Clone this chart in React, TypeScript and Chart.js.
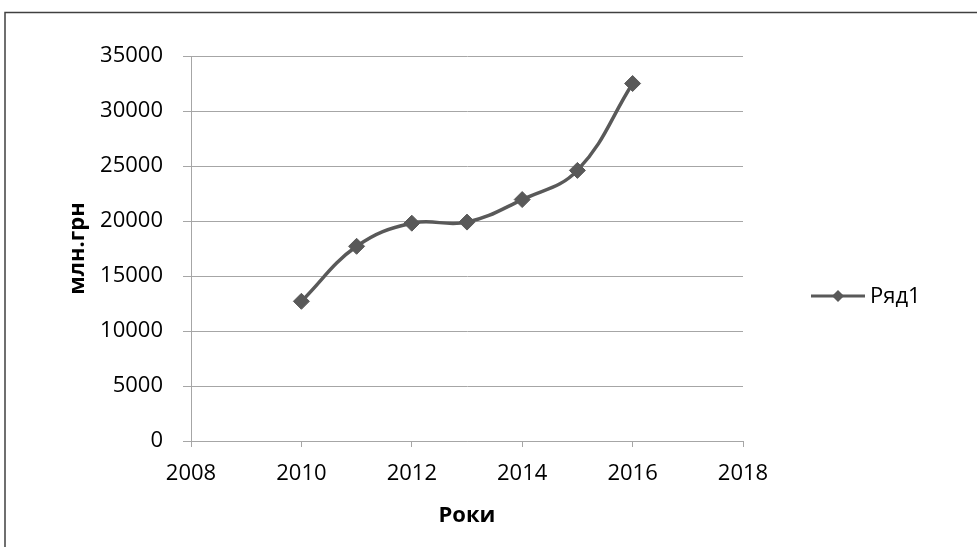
import React, { useEffect, useRef } from "react";
import { Chart, registerables } from "chart.js";

Chart.register(...registerables);

// ---- data ----
const years = [2010, 2011, 2012, 2013, 2014, 2015, 2016];
const values = [12700, 17700, 19800, 19900, 21950, 24600, 32500];
const seriesName = "Ряд1";
const xTitle = "Роки";
const yTitle = "млн.грн";
const xMin = 2008;
const xMax = 2018;
const xStep = 2;
const yMin = 0;
const yMax = 35000;
const yStep = 5000;

// ---- style ----
const LINE = "#595959";
const GRID = "#a6a6a6";
const FONT = "'Open Sans', 'DejaVu Sans', sans-serif";

export default function App() {
  const ref = useRef<HTMLCanvasElement>(null);

  useEffect(() => {
    if (!ref.current) return;

    const framePlugin = {
      id: "frame",
      afterDraw(chart: any) {
        const ctx = chart.ctx;
        ctx.save();
        ctx.strokeStyle = "#404040";
        ctx.lineWidth = 1.5;
        ctx.strokeRect(5, 12.5, 1400, 900);
        ctx.restore();
      },
    };

    const legendPlugin = {
      id: "customLegend",
      afterDraw(chart: any) {
        const { ctx, chartArea } = chart;
        const x0 = chartArea.right + 68;
        const x1 = x0 + 54;
        const y = chartArea.bottom - 145;
        const cx = (x0 + x1) / 2;
        ctx.save();
        ctx.strokeStyle = LINE;
        ctx.lineWidth = 3;
        ctx.beginPath();
        ctx.moveTo(x0, y);
        ctx.lineTo(x1, y);
        ctx.stroke();
        const r = 6;
        ctx.fillStyle = LINE;
        ctx.beginPath();
        ctx.moveTo(cx, y - r);
        ctx.lineTo(cx + r, y);
        ctx.lineTo(cx, y + r);
        ctx.lineTo(cx - r, y);
        ctx.closePath();
        ctx.fill();
        ctx.fillStyle = "#000";
        ctx.font = `22px ${FONT}`;
        ctx.textBaseline = "middle";
        ctx.textAlign = "left";
        ctx.fillText(seriesName, x1 + 5, y + 1);
        ctx.restore();
      },
    };

    const chart = new Chart(ref.current, {
      type: "scatter",
      data: {
        datasets: [
          {
            label: seriesName,
            data: years.map((x, i) => ({ x, y: values[i] })),
            showLine: true,
            borderColor: LINE,
            backgroundColor: LINE,
            borderWidth: 3.5,
            tension: 0.4,
            pointStyle: "rectRot",
            pointRadius: 8,
            pointBorderWidth: 1,
            pointBorderColor: LINE,
            pointBackgroundColor: LINE,
          },
        ],
      },
      options: {
        animation: false,
        responsive: false,
        layout: { padding: { left: 0, right: 234, top: 56, bottom: 0 } },
        plugins: {
          legend: { display: false },
          tooltip: { enabled: false },
        },
        scales: {
          x: {
            type: "linear",
            min: xMin,
            max: xMax,
            ticks: {
              stepSize: xStep,
              color: "#000",
              font: { family: FONT, size: 22 },
              padding: 14,
              callback: (v: any) => String(v),
            },
            grid: {
              drawOnChartArea: false,
              tickLength: 6,
              color: GRID,
              lineWidth: 1,
            },
            border: { color: GRID, width: 1 },
            title: {
              display: true,
              text: xTitle,
              color: "#000",
              font: { family: FONT, size: 22, weight: "bold" },
              padding: { top: 0, bottom: 18 },
            },
            afterFit: (s: any) => {
              s.height = 106;
            },
          },
          y: {
            type: "linear",
            min: yMin,
            max: yMax,
            ticks: {
              stepSize: yStep,
              color: "#000",
              font: { family: FONT, size: 22 },
              padding: 20,
              callback: (v: any) => String(v),
            },
            grid: {
              color: GRID,
              lineWidth: 1,
              tickLength: 8,
            },
            border: { color: GRID, width: 1 },
            title: {
              display: true,
              text: yTitle,
              color: "#000",
              font: { family: FONT, size: 22, weight: "bold" },
              padding: { top: 65, bottom: 0 },
            },
            afterFit: (s: any) => {
              s.width = 191;
            },
          },
        },
      },
      plugins: [framePlugin, legendPlugin],
    } as any);

    return () => chart.destroy();
  }, []);

  return (
    <div style={{ position: "absolute", left: 0, top: 0, width: 977, height: 547, background: "#fff" }}>
      <canvas ref={ref} width={977} height={547} style={{ display: "block" }} />
    </div>
  );
}
